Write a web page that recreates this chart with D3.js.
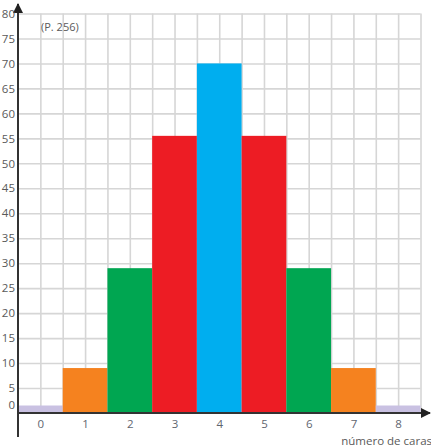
<!DOCTYPE html>
<html>
<head>
<meta charset="utf-8">
<script src="https://cdn.jsdelivr.net/npm/d3@7"></script>
<style>
  body { margin: 0; background: #fff; }
  svg text { font-family: "Open Sans", "Noto Sans", sans-serif; fill: #5a5a5a; }
  .grid line { stroke: #d6d6d6; stroke-width: 1.6; }
  .grid path { display: none; }
</style>
</head>
<body>
<div id="chart"></div>
<script>
// data
const caras = [0, 1, 2, 3, 4, 5, 6, 7, 8];
const frecuencia = [1.5, 9, 29, 55.5, 70, 55.5, 29, 9, 1.5];
const colores = ["#c9c1e2", "#f5821f", "#00a651", "#ed1c24", "#00aeef", "#ed1c24", "#00a651", "#f5821f", "#c9c1e2"];
const yTicks = d3.range(0, 81, 5);

const width = 431, height = 448;

let svg = d3.select("#chart").append("svg")
    .attr("width", width)
    .attr("height", height);

// scales
let x = d3.scaleLinear().domain([-0.5, 8.5]).range([18, 420.5]);
let y = d3.scaleLinear().domain([0, 80]).range([413, 13.5]);

// grid
svg.append("g")
    .attr("class", "grid")
    .attr("transform", `translate(0, ${y(0)})`)
    .call(d3.axisBottom(x)
        .tickValues(d3.range(0, 8.51, 0.5))
        .tickSize(-(y(0) - y(80)))
        .tickFormat(""));

svg.append("g")
    .attr("class", "grid")
    .attr("transform", `translate(${x(-0.5)}, 0)`)
    .call(d3.axisLeft(y)
        .tickValues(d3.range(5, 81, 5))
        .tickSize(-(x(8.5) - x(-0.5)))
        .tickFormat(""));

// bars
svg.append("g")
    .selectAll("rect")
    .data(caras)
    .enter()
    .append("rect")
    .attr("x", d => x(d - 0.5))
    .attr("width", d => x(d + 0.5) - x(d - 0.5))
    .attr("y", (d, i) => y(frecuencia[i]))
    .attr("height", (d, i) => y(0) - y(frecuencia[i]))
    .attr("fill", (d, i) => colores[i]);

// axes lines with arrows
svg.append("defs").append("marker")
    .attr("id", "arrow")
    .attr("viewBox", "0 0 10 10")
    .attr("refX", 9).attr("refY", 5)
    .attr("markerWidth", 5).attr("markerHeight", 5)
    .attr("orient", "auto")
    .append("path")
    .attr("d", "M0,0 L10,5 L0,10 z")
    .attr("fill", "#222");

svg.append("line")
    .attr("x1", x(-0.5)).attr("x2", x(-0.5))
    .attr("y1", 437).attr("y2", 4)
    .attr("stroke", "#333").attr("stroke-width", 2)
    .attr("marker-end", "url(#arrow)");

svg.append("line")
    .attr("x1", x(-0.5)).attr("x2", 430)
    .attr("y1", y(0)).attr("y2", y(0))
    .attr("stroke", "#333").attr("stroke-width", 2)
    .attr("marker-end", "url(#arrow)");

// y tick labels
let yAxis = svg.append("g")
    .attr("transform", `translate(${x(-0.5) - 3}, 0)`)
    .call(d3.axisLeft(y).tickValues(yTicks).tickSize(0).tickPadding(0));
yAxis.select(".domain").remove();
yAxis.selectAll("text")
    .style("font-size", "11.5px")
    .attr("dy", d => d === 0 ? "-0.4em" : "0.32em");

// x tick labels
let xAxis = svg.append("g")
    .attr("transform", `translate(0, ${y(0)})`)
    .call(d3.axisBottom(x).tickValues(caras).tickSize(0).tickPadding(7));
xAxis.select(".domain").remove();
xAxis.selectAll("text")
    .style("font-size", "11.5px")
    .style("fill", "#5f6670");

// labels
svg.append("text")
    .attr("x", 432)
    .attr("y", 445)
    .attr("text-anchor", "end")
    .style("font-size", "11.5px")
    .text("número de caras");

svg.append("text")
    .attr("x", 41)
    .attr("y", 31)
    .style("font-size", "11px")
    .text("(P. 256)");
</script>
</body>
</html>
